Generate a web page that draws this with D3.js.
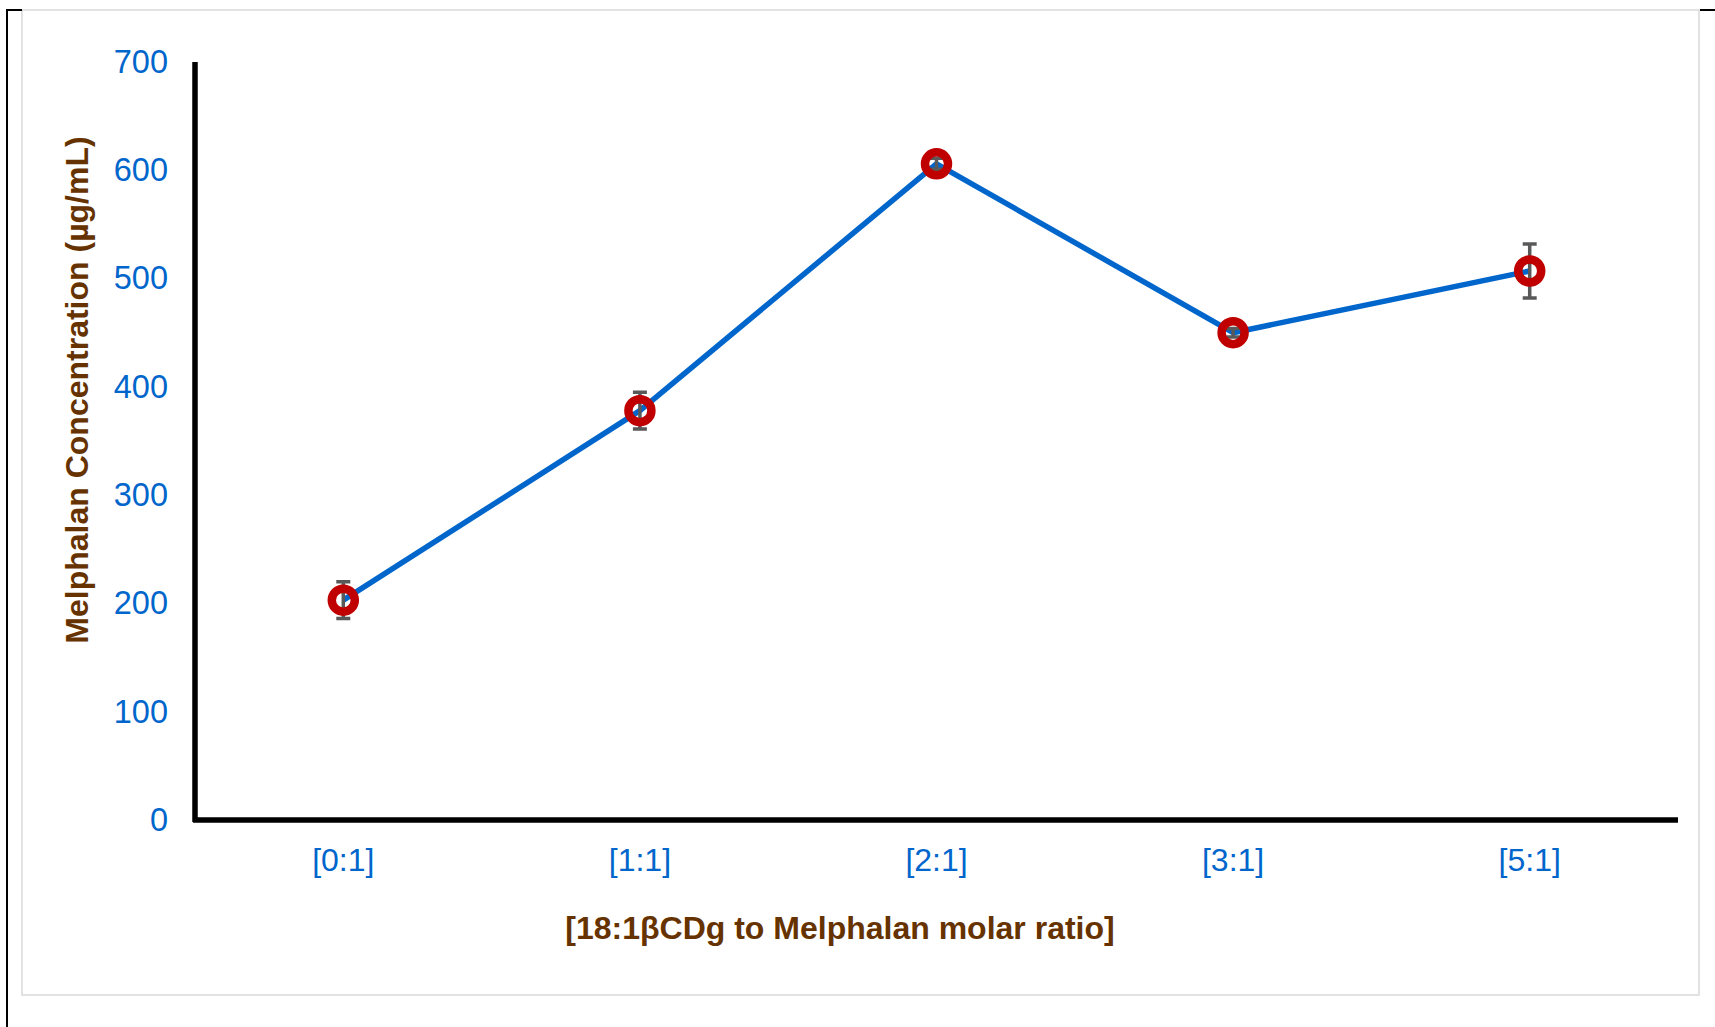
<!DOCTYPE html>
<html>
<head>
<meta charset="utf-8">
<script src="https://cdn.jsdelivr.net/npm/d3@7"></script>
<style>
  body { margin: 0; background: #fff; }
  text { font-family: "Liberation Sans", Arial, sans-serif; }
</style>
</head>
<body>
<div id="vis-container"></div>
<script>
// chart values
const ratios = ["[0:1]", "[1:1]", "[2:1]", "[3:1]", "[5:1]"];
const concentration = [203, 378, 606, 450, 507];
const errors = [17, 17, 5, 4, 25];
const yTicks = [0, 100, 200, 300, 400, 500, 600, 700];

const W = 1715, H = 1027;
const plot = { left: 195, right: 1678, top: 62, bottom: 820 };

const blue = "#0066CC", red = "#C00000", brown = "#663300";

const points = ratios.map((r, i) => ({ ratio: r, value: concentration[i], err: errors[i] }));

const svg = d3.select("#vis-container")
    .append("svg")
    .attr("width", W)
    .attr("height", H);

// outer frame pieces
svg.append("rect")
    .attr("x", 22).attr("y", 10)
    .attr("width", 1677).attr("height", 985)
    .attr("fill", "#fff")
    .attr("stroke", "#D9D9D9")
    .attr("stroke-width", 1.5);

svg.append("path")
    .attr("d", "M7,1027 V10 H22 M1700,10 H1715")
    .attr("fill", "none")
    .attr("stroke", "#000")
    .attr("stroke-width", 2);

const x = d3.scaleBand()
    .domain(ratios)
    .range([plot.left, plot.right])
    .padding(0);

const y = d3.scaleLinear()
    .domain([0, 700])
    .range([plot.bottom, plot.top]);

// y axis
const yAxis = svg.append("g")
    .attr("transform", `translate(${plot.left}, 0)`)
    .call(d3.axisLeft(y).tickValues(yTicks).tickSize(0).tickPadding(27));
yAxis.select(".domain")
    .attr("stroke", "#000")
    .attr("stroke-width", 5.5)
    .attr("d", `M0,${plot.top}V${plot.bottom + 2}`);
yAxis.selectAll("text")
    .attr("fill", blue)
    .style("font-size", "32.5px");

// x axis
const xAxis = svg.append("g")
    .attr("transform", `translate(0, ${plot.bottom})`)
    .call(d3.axisBottom(x).tickSize(0).tickPadding(28));
xAxis.select(".domain")
    .attr("stroke", "#000")
    .attr("stroke-width", 5.5)
    .attr("d", `M${plot.left - 2},0H${plot.right}`);
xAxis.selectAll("text")
    .attr("fill", blue)
    .style("font-size", "32px");

// axis titles
svg.append("text")
    .attr("transform", `translate(88, 390) rotate(-90)`)
    .attr("text-anchor", "middle")
    .attr("fill", brown)
    .style("font-size", "32px")
    .style("font-weight", "bold")
    .text("Melphalan Concentration (µg/mL)");

svg.append("text")
    .attr("x", 840)
    .attr("y", 939)
    .attr("text-anchor", "middle")
    .attr("fill", brown)
    .style("font-size", "32px")
    .style("font-weight", "bold")
    .text("[18:1βCDg to Melphalan molar ratio]");

const cx = d => x(d.ratio) + x.bandwidth() / 2;

// series line
svg.append("path")
    .datum(points)
    .attr("fill", "none")
    .attr("stroke", blue)
    .attr("stroke-width", 5.5)
    .attr("stroke-linejoin", "round")
    .attr("d", d3.line().x(cx).y(d => y(d.value)));

// error bars
const eb = svg.append("g")
    .attr("stroke", "#595959")
    .attr("stroke-width", 3.5);
eb.selectAll("path")
    .data(points)
    .enter().append("path")
    .attr("fill", "none")
    .attr("d", d => {
        const px = cx(d), top = y(d.value + d.err), bot = y(d.value - d.err);
        return `M${px},${top}V${bot}M${px - 7},${top}H${px + 7}M${px - 7},${bot}H${px + 7}`;
    });

// markers
svg.selectAll("circle.marker")
    .data(points)
    .enter().append("circle")
    .attr("class", "marker")
    .attr("cx", cx)
    .attr("cy", d => y(d.value))
    .attr("r", 11.5)
    .attr("fill", "none")
    .attr("stroke", red)
    .attr("stroke-width", 8.5);
</script>
</body>
</html>
